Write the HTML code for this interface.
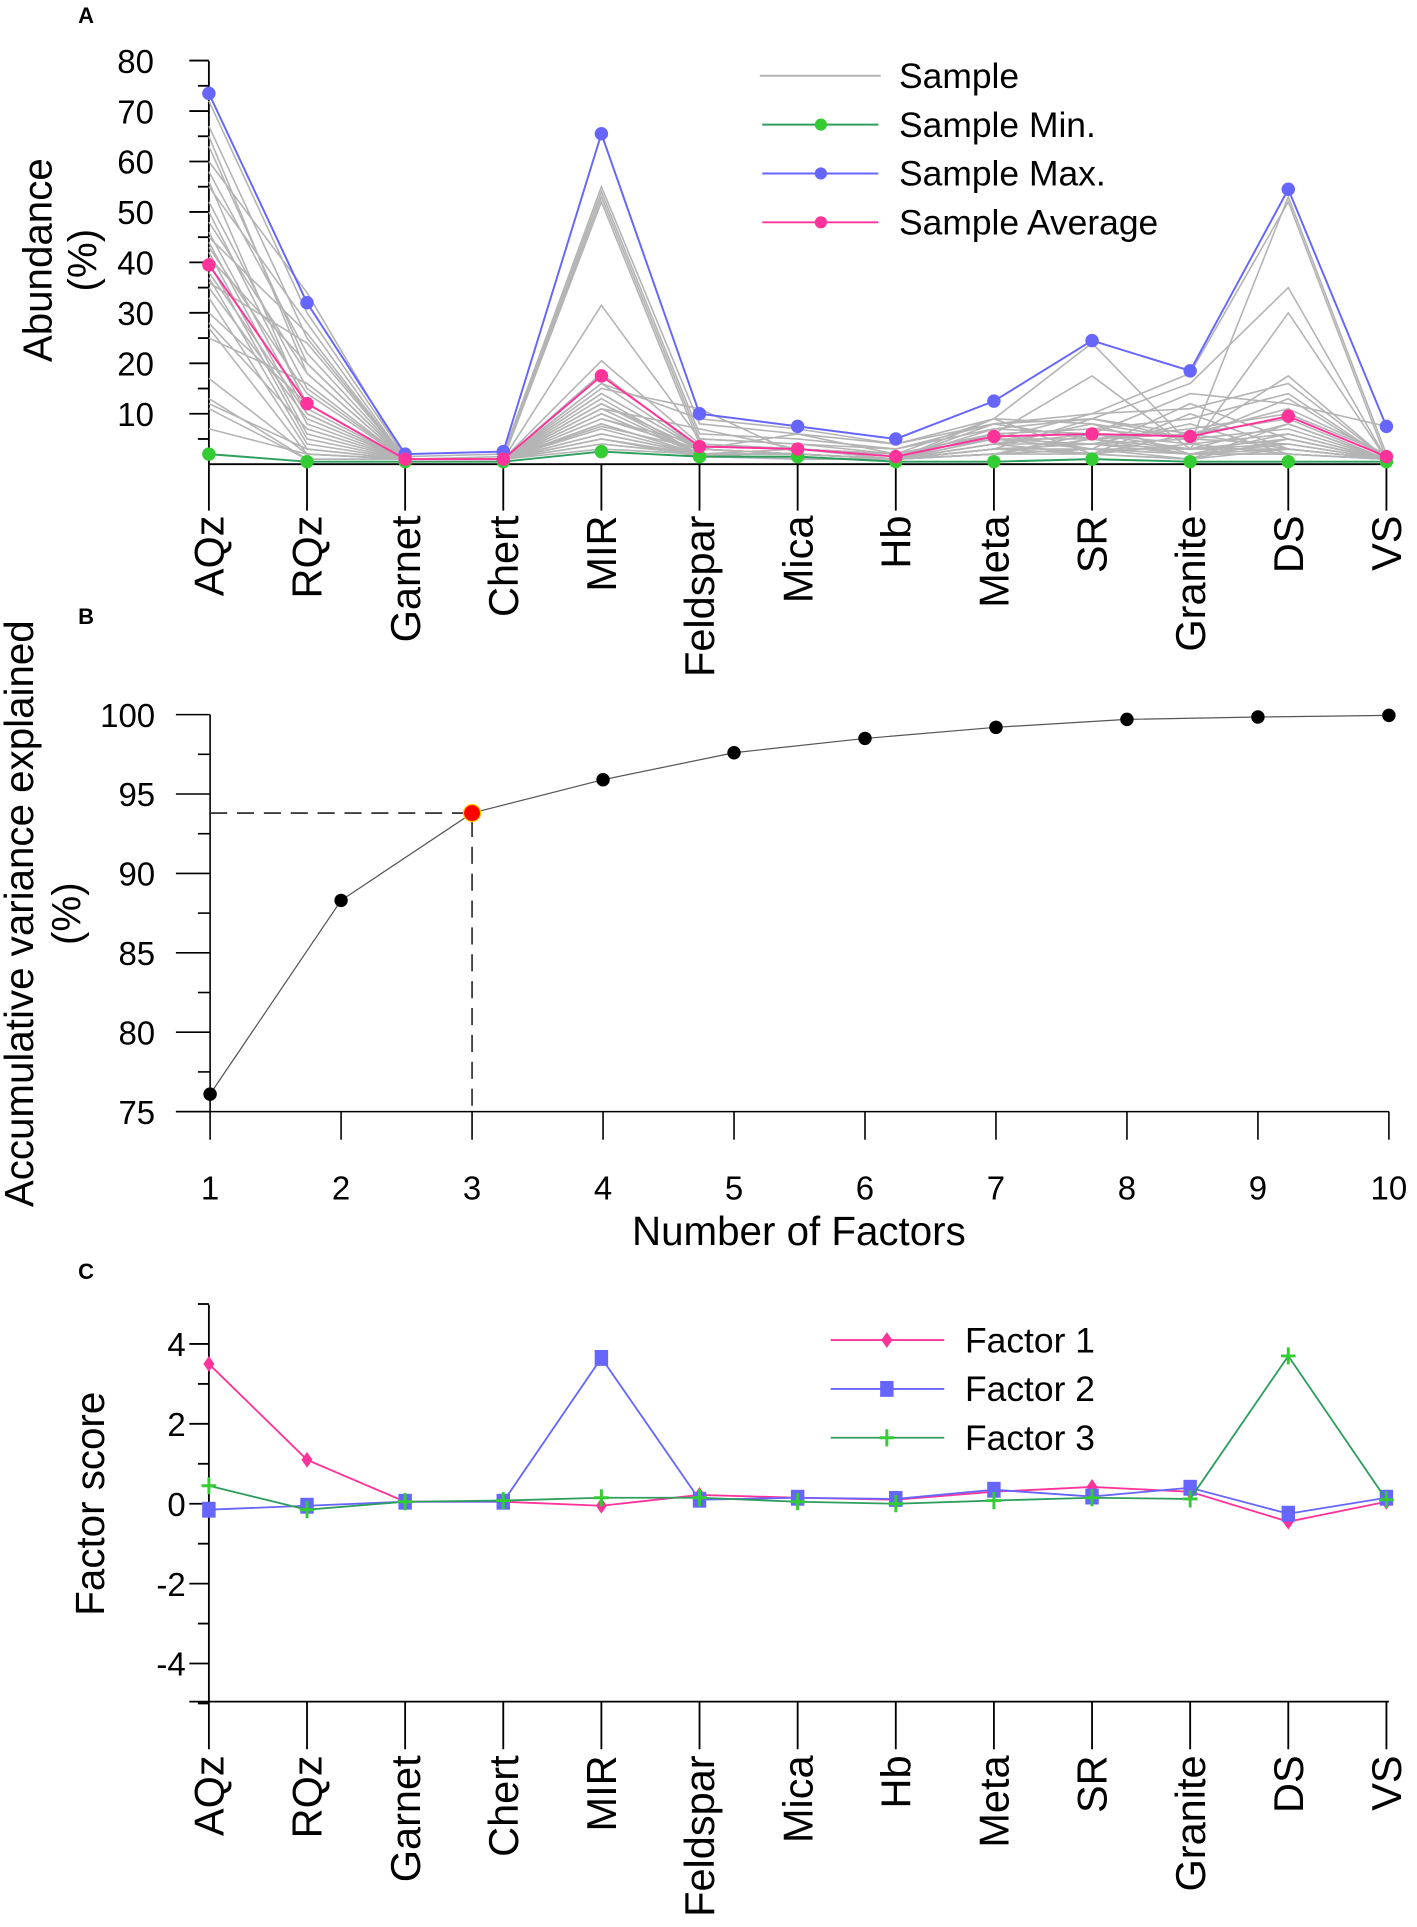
<!DOCTYPE html>
<html><head><meta charset="utf-8"><style>
html,body{margin:0;padding:0;background:#fff;}
svg{display:block;font-family:"Liberation Sans",Arial,sans-serif;}
</style></head><body>
<svg id="fig" width="1417" height="1927" viewBox="0 0 1160 1577.5" preserveAspectRatio="none" xmlns="http://www.w3.org/2000/svg"></svg>
<script>
const categories=["AQz","RQz","Garnet","Chert","MIR","Feldspar","Mica","Hb","Meta","SR","Granite","DS","VS"];
const sampleMax=[73.5,32,2,2.5,65.5,10,7.5,5,12.5,24.5,18.5,54.5,7.5];
const sampleAvg=[39.5,12,1,1,17.5,3.5,3,1.5,5.5,6,5.5,9.5,1.5];
const sampleMin=[2,0.5,0.5,0.5,2.5,1.5,1.5,0.5,0.5,1,0.5,0.5,0.5];
const samples=[
[72,30,1.5,2,55,8,6,4,9,24,4,53,2],
[67,25,1,1.5,54,6,5,3,8,10,18,52,1],
[63,20,1,1,53,5,4,3,7,9,16,35,1],
[60,34,1,1,52,4,3,2,6,17.5,3,30,1],
[58,22,1,1,31.5,5,4,2,9,8,5,17.5,1],
[55,28,1,1,20.5,4,3,2,5,10,11,16,1],
[52,15,1,1,18,3,6,2,6,7,9,14,1],
[50,12,1,1,16,3,2,1,4,6,14,12,7.5],
[48,18,1,1,15,11,2,1,8,5,7,10,2],
[46,10,1,1,14,3,2,1,5,5,6,9,1],
[45,26,1,1,13,2,3,1,4,4,3,8,1],
[44,8,1,1,12,3,2,1,3,9,5,7,1],
[43,14,1,1,11,2,2,1,7,6,4,6,1],
[42,6,1,1,10,2,1,1,2,3,12,5,1],
[41,20,1,1,9,4,3,2,5,4,5,4,1],
[40,5,1,1,8,2,2,1,6,3,3,3,1],
[38,10,1,1,7.5,3,2,1,4,8,2,4,1],
[37,4,1,1,7,2,1,1,3,2,6,3,1],
[36,24,1,1,6,2,1,1,2,5,2,2,1],
[35,9,1,1,5,1.5,1,1,3,4,8,2,1],
[33,3,1,1,4,2,2,1,2,6,3,5,1],
[30,12,1,1,4,2,2,1,5,3,2,3,1],
[28,7,1,1,3,2,1,1,4,2,4,2,1],
[27,2,1,1,6,2,1,1,3,3,2,6,1],
[25,16,1,1,9,3,2,1,2,5,3,4,1],
[17,2,1,1,12,2,1,1,4,2,1,3,1],
[13,1,1,1,10,2,1,1,3,4,2,2,1],
[12,3,1,1,5,2,1,1,2,3,1,8,1],
[11,1,1,1,8,2,1,1,2,2,1,5,1],
[7,2,1,1,14,3,2,1,9,2,10,3,1],
[65,18,1,1,16,9,7,4,8,9,6,11,2],
[56,11,1,1,11,7,3,2,6,7,5,13,1]
];
const factorCats=categories;
const factor1=[3.5,1.1,0.05,0.05,-0.05,0.22,0.15,0.1,0.3,0.42,0.3,-0.45,0.05];
const factor2=[-0.15,-0.05,0.05,0.05,3.65,0.1,0.15,0.12,0.35,0.18,0.4,-0.25,0.15];
const factor3=[0.45,-0.15,0.05,0.08,0.15,0.15,0.05,0.0,0.08,0.15,0.12,3.7,0.1];
const nFactors=[1,2,3,4,5,6,7,8,9,10];
const cumVar=[76.1,88.3,93.8,95.9,97.6,98.5,99.2,99.7,99.85,99.95];
const aTicks=[10,20,30,40,50,60,70,80];
const bTicks=[75,80,85,90,95,100];
const cTicks=[-4,-2,0,2,4];
const xTicksB=[1,2,3,4,5,6,7,8,9,10];

const NS="http://www.w3.org/2000/svg";
const svg=document.getElementById('fig');
function mk(tag,attrs,parent){const e=document.createElementNS(NS,tag);for(const k in attrs)e.setAttribute(k,attrs[k]);(parent||svg).appendChild(e);return e;}
function txt(s,attrs,parent){const e=mk('text',attrs,parent);e.textContent=s;return e;}
function pts(xs,ys){return xs.map((x,i)=>x+','+ys[i]).join(' ');}

const catX=i=>171+i*80.33;
const yA=v=>380-v*4.13;
const xB=v=>172+(v-1)*(1137-172)/9;
const yB=v=>910-(v-75)*13;
const yC=v=>1231-v*32.7;
const BLACK='#000',PINK='#ff3399',BLUE='#6666ff',GREEN='#2e9e5e',GDOT='#33cc33',GRAY='#b4b4b4';
const TICKF=27, CATF=34, TITLEF=33, LEGF=29;

let e;
e=txt('A',{x:64,y:19,'font-size':18,'font-weight':'bold'});


e=txt('B',{x:64,y:511,'font-size':18,'font-weight':'bold'});


e=txt('C',{x:64,y:1047,'font-size':18,'font-weight':'bold'});



/* ===== Panel A ===== */
const gA=mk('g',{});


e=mk('line',{x1:171,y1:50,x2:171,y2:380,stroke:BLACK,'stroke-width':1.5},gA);


for(let v=5;v<=80;v+=5){
  const major=v%10===0;
  e=mk('line',{x1:major?155:162,y1:yA(v),x2:171,y2:yA(v),stroke:BLACK,'stroke-width':1.5},gA);
  
  
}
aTicks.forEach(v=>{
  e=txt(String(v),{x:126,y:yA(v)+10,'font-size':TICKF,'text-anchor':'end'},gA);
  
  
});
e=txt('Abundance',{transform:'translate(42,213) rotate(-90)','font-size':TITLEF,'text-anchor':'middle'},gA);


e=txt('(%)',{transform:'translate(79,213) rotate(-90)','font-size':TITLEF,'text-anchor':'middle'},gA);


e=mk('line',{x1:171,y1:380,x2:1137,y2:380,stroke:BLACK,'stroke-width':1.5},gA);


categories.forEach((c,i)=>{
  e=mk('line',{x1:catX(i),y1:380,x2:catX(i),y2:418,stroke:BLACK,'stroke-width':1.5},gA);
  
  
  e=txt(c,{transform:`translate(${catX(i)+12},422) rotate(-90)`,'font-size':CATF,'text-anchor':'end'},gA);
  
  
});
samples.forEach(row=>{
  e=mk('polyline',{points:pts(row.map((_,i)=>catX(i)),row.map(yA)),fill:'none',stroke:GRAY,'stroke-width':1.3},gA);
  
  
});
[[sampleMin,GREEN,GDOT,'sample-min'],[sampleMax,BLUE,BLUE,'sample-max'],[sampleAvg,PINK,PINK,'sample-average']].forEach(([arr,lc,dc,nm])=>{
  e=mk('polyline',{points:pts(arr.map((_,i)=>catX(i)),arr.map(yA)),fill:'none',stroke:lc,'stroke-width':1.6},gA);
  
  
  arr.forEach((v,i)=>{
    e=mk('circle',{cx:catX(i),cy:yA(v),r:5.5,fill:dc},gA);
    
    
  });
});
const legA=mk('g',{},gA);


[['Sample',GRAY,null,62],['Sample Min.',GREEN,GDOT,102],['Sample Max.',BLUE,BLUE,142],['Sample Average',PINK,PINK,182]].forEach(([l,lc,dc,y])=>{
  e=mk('line',{x1:dc?624:622,y1:y,x2:dc?719:721,y2:y,stroke:lc,'stroke-width':1.6},legA);
  
  
  if(dc){e=mk('circle',{cx:672,cy:y,r:5,fill:dc},legA);
  
  }
  e=txt(l,{x:736,y:y+10,'font-size':LEGF},legA);
  
  
});

/* ===== Panel B ===== */
const gB=mk('g',{});


e=mk('line',{x1:172,y1:yB(100),x2:172,y2:910,stroke:BLACK,'stroke-width':1.3},gB);


e=mk('line',{x1:144,y1:910,x2:1137,y2:910,stroke:BLACK,'stroke-width':1.3},gB);


for(let v=75;v<=100;v+=2.5){
  const major=v%5===0;
  e=mk('line',{x1:major?144:162,y1:yB(v),x2:172,y2:yB(v),stroke:BLACK,'stroke-width':1.3},gB);
  
  
}
bTicks.forEach(v=>{
  e=txt(String(v),{x:127,y:yB(v)+10,'font-size':TICKF,'text-anchor':'end'},gB);
  
  
});
xTicksB.forEach(v=>{
  e=mk('line',{x1:xB(v),y1:910,x2:xB(v),y2:933,stroke:BLACK,'stroke-width':1.3},gB);
  
  
  e=txt(String(v),{x:xB(v),y:982,'font-size':TICKF,'text-anchor':'middle'},gB);
  
  
});
e=txt('Number of Factors',{x:654,y:1019,'font-size':TITLEF,'text-anchor':'middle'},gB);


e=txt('Accumulative variance explained',{transform:'translate(27,748) rotate(-90)','font-size':TITLEF,'text-anchor':'middle'},gB);


e=txt('(%)',{transform:'translate(66,748) rotate(-90)','font-size':TITLEF,'text-anchor':'middle'},gB);


const sel=2;
e=mk('polyline',{points:`172,${yB(cumVar[sel])} ${xB(nFactors[sel])},${yB(cumVar[sel])} ${xB(nFactors[sel])},910`,fill:'none',stroke:'#222','stroke-width':1.3,'stroke-dasharray':'14,8'},gB);


e=mk('polyline',{points:pts(nFactors.map(xB),cumVar.map(yB)),fill:'none',stroke:'#555','stroke-width':1},gB);


nFactors.forEach((n,i)=>{
  e=mk('circle',{cx:xB(n),cy:yB(cumVar[i]),r:i===sel?7:5.5,fill:i===sel?'#ff0000':'#000',stroke:i===sel?'#ffcc00':'none','stroke-width':1},gB);
  
  
});

/* ===== Panel C ===== */
const gC=mk('g',{});


e=mk('line',{x1:171,y1:1068,x2:171,y2:1393,stroke:BLACK,'stroke-width':1.5},gC);


e=mk('line',{x1:155,y1:1393,x2:1137,y2:1393,stroke:BLACK,'stroke-width':1.5},gC);


for(let v=-5;v<=5;v++){
  const major=v%2===0;
  e=mk('line',{x1:major?155:162,y1:yC(v),x2:171,y2:yC(v),stroke:BLACK,'stroke-width':1.5},gC);
  
  
}
cTicks.forEach(v=>{
  e=txt(String(v),{x:152,y:yC(v)+10,'font-size':TICKF,'text-anchor':'end'},gC);
  
  
});
e=txt('Factor score',{transform:'translate(85,1231) rotate(-90)','font-size':TITLEF,'text-anchor':'middle'},gC);


factorCats.forEach((c,i)=>{
  e=mk('line',{x1:catX(i),y1:1393,x2:catX(i),y2:1432,stroke:BLACK,'stroke-width':1.5},gC);
  
  
  e=txt(c,{transform:`translate(${catX(i)+12},1437) rotate(-90)`,'font-size':CATF,'text-anchor':'end'},gC);
  
  
});
function marker(kind,x,y,col,parent){
  let m;
  if(kind==='diamond') m=mk('polygon',{points:`${x},${y-6.5} ${x+4.5},${y} ${x},${y+6.5} ${x-4.5},${y}`,fill:col},parent);
  else if(kind==='square') m=mk('rect',{x:x-5.5,y:y-6.5,width:11,height:13,fill:col},parent);
  else m=mk('path',{d:`M${x-6},${y}H${x+6}M${x},${y-7}V${y+7}`,stroke:col,'stroke-width':2.4,fill:'none'},parent);
  return m;
}
[[factor1,PINK,PINK,'diamond','factor-1'],[factor2,BLUE,BLUE,'square','factor-2'],[factor3,GREEN,GDOT,'plus','factor-3']].forEach(([arr,lc,mc,kind,nm])=>{
  e=mk('polyline',{points:pts(arr.map((_,i)=>catX(i)),arr.map(yC)),fill:'none',stroke:lc,'stroke-width':1.5},gC);
  
  
  arr.forEach((v,i)=>{
    e=marker(kind,catX(i),yC(v),mc,gC);
    
    
  });
});
const legC=mk('g',{},gC);


[['Factor 1',PINK,PINK,'diamond',1097],['Factor 2',BLUE,BLUE,'square',1137],['Factor 3',GREEN,GDOT,'plus',1177]].forEach(([l,lc,mc,kind,y])=>{
  e=mk('line',{x1:680,y1:y,x2:773,y2:y,stroke:lc,'stroke-width':1.5},legC);
  
  
  e=marker(kind,726,y,mc,legC);
  
  
  e=txt(l,{x:790,y:y+10,'font-size':LEGF},legC);
  
  
});
</script>
</body></html>
